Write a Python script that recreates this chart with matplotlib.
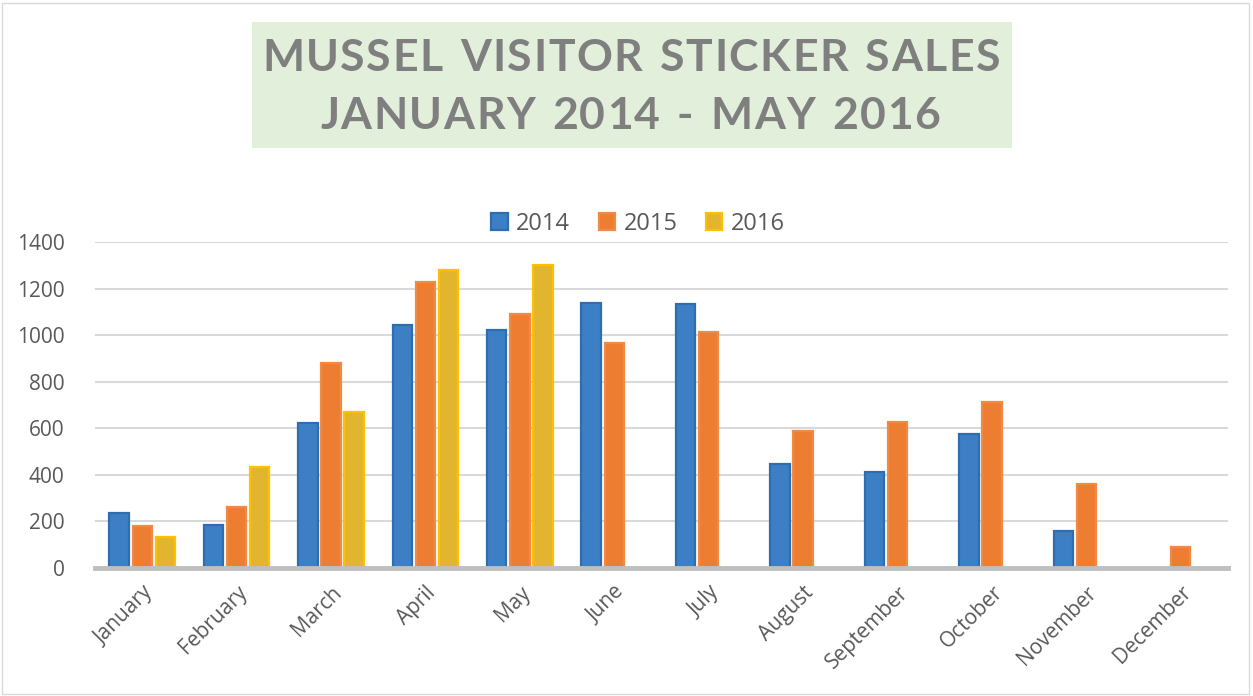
import numpy as np
import matplotlib
matplotlib.use("Agg")
import matplotlib.pyplot as plt
from matplotlib.patches import Rectangle

months = ["January", "February", "March", "April", "May", "June", "July",
          "August", "September", "October", "November", "December"]
years = ["2014", "2015", "2016"]
sales_2014 = [235, 183, 622, 1045, 1020, 1137, 1135, 448, 413, 577, 160, np.nan]
sales_2015 = [180, 263, 880, 1230, 1090, 965, 1012, 590, 628, 715, 362, 90]
sales_2016 = [135, 435, 670, 1278, 1300, np.nan, np.nan, np.nan, np.nan, np.nan, np.nan, np.nan]
yticks = [0, 200, 400, 600, 800, 1000, 1200, 1400]
title_lines = ["MUSSEL VISITOR STICKER SALES", "JANUARY 2014 - MAY 2016"]

W, H = 1253, 696
fig = plt.figure(figsize=(W / 100, H / 100), dpi=100)
fig.patch.set_facecolor("white")

# border
fig.patches.append(Rectangle((2 / W, 2 / H), (W - 6) / W, (H - 5) / H, transform=fig.transFigure,
                             fill=False, edgecolor="#D9D9D9", linewidth=1.0))

ax = fig.add_axes([95 / W, 1 - 568 / H, (1228 - 95) / W, (568 - 242) / H])
x = np.arange(len(months))
bw = 0.205
off = 0.245
face = ["#3C7FC4", "#ED7D31", "#E2B52F"]
edge = ["#2E6DB0", "#F08A45", "#FFC000"]
series = [sales_2014, sales_2015, sales_2016]
handles = []
for i, (vals, fc, ec) in enumerate(zip(series, face, edge)):
    b = ax.bar(x + (i - 1) * off, vals, width=bw, color=fc, edgecolor=ec, linewidth=1.6,
               label=years[i], zorder=3)
    handles.append(b)

tick_font = dict(family="Open Sans", size=15)
ax.set_xlim(-0.5, len(months) - 0.5)
ax.set_ylim(0, 1400)
ax.set_yticks(yticks)
ax.set_yticklabels([str(v) for v in yticks], fontdict=tick_font, color="#595959")
ax.tick_params(axis="y", length=0, pad=22)
ax.tick_params(axis="x", length=0, pad=10)
ax.set_xticks(x)
ax.set_xticklabels(months, rotation=45, ha="right", rotation_mode="anchor",
                   fontdict=tick_font, color="#595959")
ax.grid(axis="y", color="#D9D9D9", linewidth=1.5, zorder=0)
for s in ["top", "right", "left"]:
    ax.spines[s].set_visible(False)
ax.spines["bottom"].set_color("#BFBFBF")
ax.spines["bottom"].set_linewidth(3.5)
ax.spines["bottom"].set_zorder(4)

leg = fig.legend(handles=handles, labels=years, loc="center", bbox_to_anchor=(638 / W, 1 - 224 / H),
                 ncol=3, frameon=False, prop=dict(family="Open Sans", size=17),
                 handlelength=0.7, handleheight=0.7,
                 handletextpad=0.35, columnspacing=1.2, labelcolor="#595959")

# title box
fig.patches.append(Rectangle((252 / W, 1 - 148 / H), (1012 - 252) / W, (148 - 22) / H,
                             transform=fig.transFigure, facecolor="#E2EFDA", edgecolor="none", zorder=0))

renderer = fig.canvas.get_renderer()

def spaced_text(s, cx, cy, target_w, size):
    props = dict(fontsize=size, fontweight="bold", family="Lato", color="#7F7F7F")
    widths = []
    for ch in s:
        t = fig.text(0, 0, ch if ch != " " else "n", **props)
        bb = t.get_window_extent(renderer)
        widths.append(bb.width if ch != " " else bb.width * 0.55)
        t.remove()
    n = len(s)
    total = sum(widths)
    gap = (target_w - total) / (n - 1)
    xpos = cx - target_w / 2
    for ch, w in zip(s, widths):
        if ch != " ":
            fig.text(xpos / W, 1 - cy / H, ch, ha="left", va="center", **props)
        xpos += w + gap

spaced_text(title_lines[0], 631, 58, 738, 32)
spaced_text(title_lines[1], 630, 116, 620, 32)

fig.savefig("out.png", dpi=100)
